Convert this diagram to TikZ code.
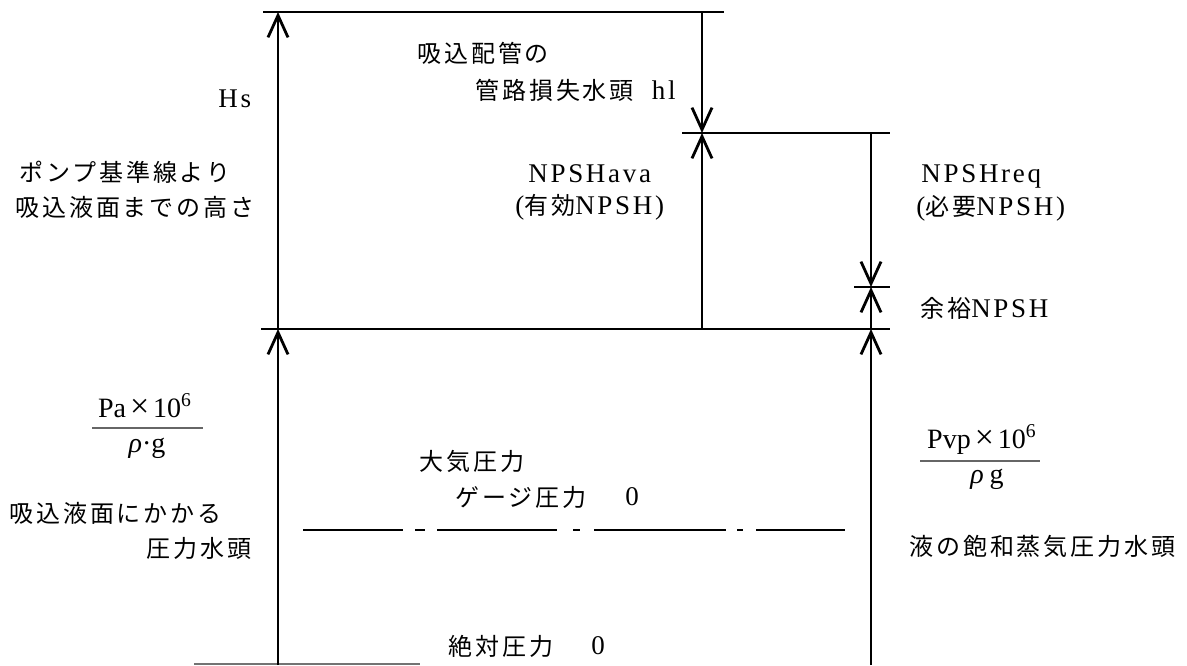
\documentclass[tikz,border=0pt]{standalone}
\usepackage{fontspec}
\setmainfont{Liberation Serif}
\newfontfamily\jpf{Noto Sans CJK JP}[LetterSpace=12]
\newfontfamily\latf{Liberation Serif}[LetterSpace=10]
\usetikzlibrary{arrows.meta}
\newcommand\lat[1]{{\latf\fontsize{13.5}{15}\selectfont #1}}
\begin{document}
\begin{tikzpicture}[x=0.5pt,y=-0.5pt,
  ln/.style={line width=1.3pt},
  arr/.style={line width=1.1pt,-{Straight Barb[length=11pt,width=10pt,line width=1.4pt]}},
  jt/.style={font=\jpf\fontsize{12}{14}\selectfont, inner sep=0pt, anchor=west},
  lt/.style={font=\latf\fontsize{13.5}{15}\selectfont, inner sep=0pt, anchor=base west},
  ft/.style={font=\fontsize{14}{16}\selectfont, inner sep=0pt, anchor=base},
  dl/.style={line width=1.3pt}
]
\useasboundingbox (0,0) rectangle (1187,665);
\fill[white] (0,0) rectangle (1187,665);

% coordinates
\coordinate (A0) at (278,665);
\coordinate (A1) at (278,329);
\coordinate (A2) at (278,12);
\coordinate (B0) at (702,12);
\coordinate (B1) at (702,133);
\coordinate (B2) at (702,329);
\coordinate (C0) at (871,133);
\coordinate (C1) at (871,287);
\coordinate (C2) at (871,329);
\coordinate (C3) at (871,665);
\coordinate (T1) at (263,12);   \coordinate (T2) at (724,12);
\coordinate (M1) at (682,133);  \coordinate (M2) at (890,133);
\coordinate (K1) at (854,287);  \coordinate (K2) at (890,287);
\coordinate (L1) at (261,329);  \coordinate (L2) at (890,329);
\coordinate (G1) at (194,664);  \coordinate (G2) at (420,664);

% horizontal lines
\draw[ln] (T1) -- (T2);
\draw[ln] (M1) -- (M2);
\draw[ln] (K1) -- (K2);
\draw[ln] (L1) -- (L2);
\draw[line width=0.8pt,black!55] (G1) -- (G2);

% dimension arrows
\draw[arr] (A0) -- (A1);
\draw[arr] (A1) -- (A2);
\draw[arr] (B0) -- (B1);
\draw[arr] (B2) -- (B1);
\draw[arr] (C0) -- (C1);
\draw[arr] (C2) -- (C1);
\draw[arr] (C3) -- (C2);

% dash-dot line
\draw[dl] (303,530) -- (403,530) (415,530) -- (425,530) (437,530) -- (557,530)
  (573,530) -- (580,530) (594,530) -- (726,530) (737,530) -- (743,530) (756,530) -- (845,530);

% texts
\node[jt] (t1) at (417,53) {吸込配管の};
\node[jt] (t2) at (475,90) {管路損失水頭\hspace{9pt}\lat{hl}};
\node[lt] (hs) at (218,107) {Hs};
\node[jt] (t3) at (19,172) {ポンプ基準線より};
\node[jt] (t4) at (15,207) {吸込液面までの高さ};
\node[lt] (ava) at (528,182) {NPSHava};
\node[jt] (t5) at (515,207) {\lat{(}有効\lat{NPSH)}};
\node[lt] (req) at (921,182) {NPSHreq};
\node[jt] (t6) at (916,208) {\lat{(}必要\lat{NPSH)}};
\node[jt] (t7) at (920,308) {余裕\lat{NPSH}};
\node[jt] (t8) at (419,461) {大気圧力};
\node[jt] (t9) at (455,497) {ゲージ圧力};
\node[jt] (z1) at (625,497) {\lat{0}};
\node[jt] (t10) at (9,513) {吸込液面にかかる};
\node[jt] (t11) at (146,548) {圧力水頭};
\node[jt] (t12) at (909,546) {液の飽和蒸気圧力水頭};
\node[jt] (t13) at (448,646) {絶対圧力};
\node[jt] (z2) at (591,646) {\lat{0}};

% fractions
\node[ft] (pan) at (145,417) {Pa\hspace{2pt}{\fontsize{17}{17}\selectfont ×}\hspace{2pt}10\textsuperscript{6}};
\draw[line width=0.7pt,black!60] (92,428) -- (203,428);
\node[ft] (pad) at (147,452) {\textit{ρ}·g};
\node[ft] (pvn) at (982,448) {Pvp\hspace{2pt}{\fontsize{17}{17}\selectfont ×}\hspace{2pt}10\textsuperscript{6}};
\draw[line width=0.7pt,black!60] (920,461) -- (1040,461);
\node[ft] (pvd) at (987,483) {\textit{ρ}\hspace{3pt}g};
\end{tikzpicture}
\end{document}
